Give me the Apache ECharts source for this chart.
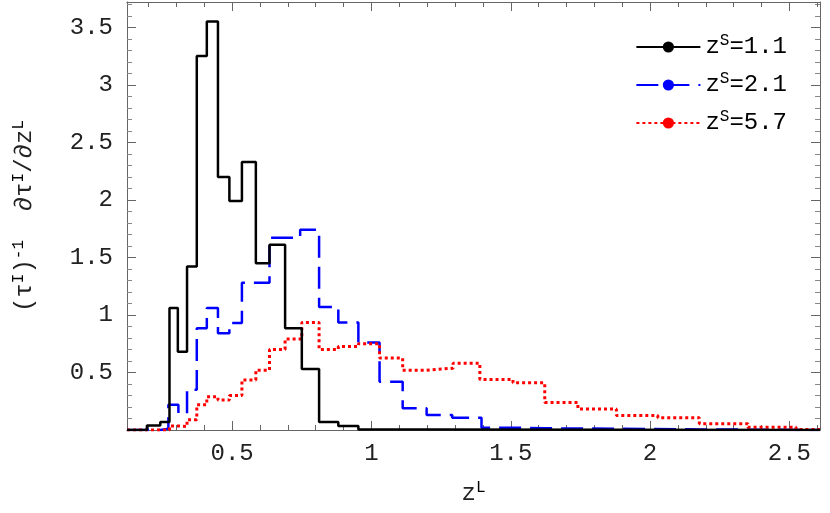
<!DOCTYPE html>
<html><head><meta charset="utf-8">
<script src="https://cdn.jsdelivr.net/npm/echarts@6/dist/echarts.min.js"></script>
<style>html,body{margin:0;padding:0;background:#fff}#c{width:830px;height:513px}</style>
</head><body><div id="c"></div>
<script>
const seriesNames = ['z{sup|S}=1.1', 'z{sup|S}=2.1', 'z{sup|S}=5.7'];
const black = [[0.1225,0],[0.194,0.04],[0.242,0.07],[0.275,1.06],[0.305,0.68],[0.338,1.42],[0.373,3.25],[0.409,3.55],[0.449,2.2],[0.49,1.99],[0.535,2.33],[0.585,1.45],[0.634,1.61],[0.69,0.885],[0.75,0.53],[0.812,0.07],[0.881,0.035],[0.953,0.005],[1.204,0],[2.61,0]];
const blue = [[0.1225,0],[0.242,0.01],[0.271,0.22],[0.307,0.145],[0.338,0.35],[0.373,0.885],[0.409,1.06],[0.449,0.84],[0.49,0.93],[0.535,1.28],[0.634,1.67],[0.744,1.74],[0.812,1.07],[0.881,0.935],[0.953,0.76],[1.029,0.42],[1.112,0.19],[1.198,0.13],[1.29,0.107],[1.395,0.02],[1.503,0.015],[1.622,0.005],[2.18,0],[2.61,0]];
const red = [[0.1225,0],[0.275,0.035],[0.305,0.03],[0.338,0.09],[0.373,0.22],[0.409,0.29],[0.449,0.26],[0.49,0.3],[0.535,0.435],[0.585,0.52],[0.634,0.70],[0.69,0.79],[0.75,0.935],[0.812,0.70],[0.881,0.725],[0.953,0.75],[1.029,0.625],[1.112,0.52],[1.198,0.537],[1.293,0.58],[1.389,0.44],[1.508,0.41],[1.622,0.24],[1.741,0.183],[1.879,0.125],[2.028,0.107],[2.177,0.055],[2.351,0.023],[2.524,0.005],[2.61,0.005]];
const xMajor = [0.5,1,1.5,2,2.5];
const xMinor = [0.2,0.3,0.4,0.6,0.7,0.8,0.9,1.1,1.2,1.3,1.4,1.6,1.7,1.8,1.9,2.1,2.2,2.3,2.4,2.6];
const xMin = 0.1225, xMax = 2.61, yMin = 0, yMax = 3.72;

const FONT = 'Liberation Mono';
const supRich = {sup:{fontSize:16, verticalAlign:'top', padding:[0,0,12,0], fontFamily:FONT, color:'#000'}};
function xa(pos, labels, ticks, len){
  return {type:'value', position:pos, min:xMin, max:xMax,
    axisLine:{show:true, onZero:false, lineStyle:{color:'#666', width:1}},
    axisTick:{show:true, inside:true, length:len, customValues:ticks, lineStyle:{color:'#666'}},
    axisLabel:labels?{show:true, customValues:xMajor, fontFamily:FONT, fontSize:24, color:'#222', margin:12, formatter:v=>String(v)}:{show:false},
    splitLine:{show:false}};
}
function ya(pos, labels){
  return {type:'value', position:pos, min:yMin, max:yMax, interval:0.5,
    axisLine:{show:true, onZero:false, lineStyle:{color:'#666', width:1}},
    axisTick:{show:true, inside:true, length:9, lineStyle:{color:'#666'}},
    minorTick:{show:true, splitNumber:5, length:5, lineStyle:{color:'#888'}},
    axisLabel:labels?{show:true, fontFamily:FONT, fontSize:24, color:'#222', margin:14, showMaxLabel:false,
      formatter:v=>v===0?'':String(v)}:{show:false},
    splitLine:{show:false}};
}
const xs = [xa('bottom',true,xMajor,9), xa('bottom',false,xMinor,5), xa('top',false,xMajor,9), xa('top',false,xMinor,5)];
xs[0].name = 'z{sup|L}'; xs[0].nameLocation='middle'; xs[0].nameGap=50;
xs[0].nameTextStyle = {fontFamily:FONT, fontSize:24, color:'#222', rich:supRich};
const ys = [ya('left',true), ya('right',false)];
ys[0].name = '(τ{sup|I}){sup|-1}  ∂τ{sup|I}/∂z{sup|L}'; ys[0].nameLocation='middle'; ys[0].nameGap=88;
ys[0].nameTextStyle = {fontFamily:FONT, fontSize:24, color:'#222', rich:supRich};

function s(name, data, color, type, w){
  return {name, type:'line', step:'end', data, showSymbol:false, symbol:'none', xAxisIndex:0, yAxisIndex:0,
    lineStyle:{color, width:w, type}, itemStyle:{color}, z:type==='solid'?3:2};
}
const chart = echarts.init(document.getElementById('c'), null, {renderer:'canvas'});
chart.setOption({
  animation:false,
  grid:{left:127, right:10, top:2, bottom:83},
  xAxis: xs, yAxis: ys,
  legend:{show:true, orient:'vertical', right:38, top:28, itemWidth:64, itemHeight:14, itemGap:12,
    data: seriesNames,
    textStyle:{fontFamily:FONT, fontSize:24, color:'#000', rich:supRich}},
  series:[s(seriesNames[0],black,'#000','solid',2.5), s(seriesNames[1],blue,'#0000ff',[22,9],2.5), s(seriesNames[2],red,'#ff0000',[3,3],3)]
});
</script></body></html>
